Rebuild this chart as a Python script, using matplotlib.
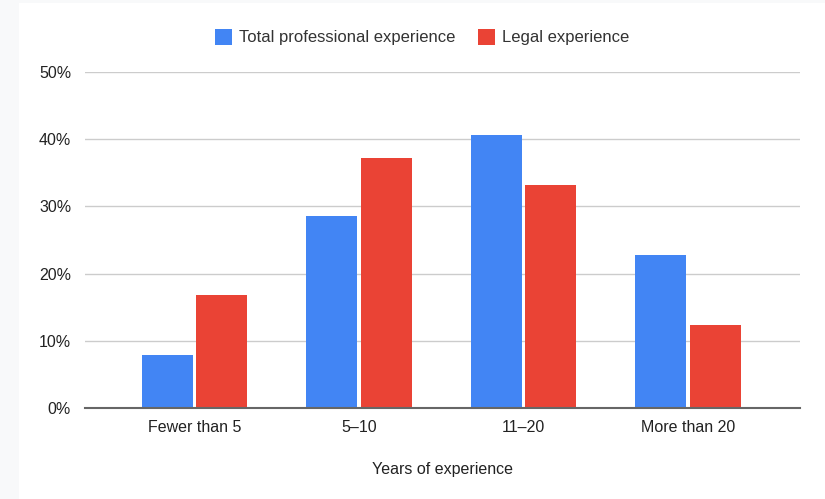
import matplotlib.pyplot as plt
import matplotlib.patches as mpatches
import numpy as np

# Data
categories = ['Fewer than 5', '5–10', '11–20', 'More than 20']
total_experience = [7.9, 28.6, 40.6, 22.8]
legal_experience = [16.8, 37.2, 33.2, 12.4]
y_ticks = [0, 10, 20, 30, 40, 50]

plt.rcParams['font.family'] = ['Liberation Sans', 'DejaVu Sans']

W, H = 825, 499
fig = plt.figure(figsize=(W / 100, H / 100), dpi=100, facecolor='#f8f9fa')

# white card behind the chart
fig.patches.append(mpatches.Rectangle((19 / W, 0), 1 - 19 / W, 1 - 3 / H,
                                      transform=fig.transFigure,
                                      facecolor='white', edgecolor='none', zorder=-10))

ax = fig.add_axes([85 / W, 1 - 408 / H, 715 / W, 336 / H])
ax.set_facecolor('none')

x = np.arange(len(categories))
w = 0.31
gap = 0.01
ax.bar(x - w / 2 - gap, total_experience, width=w, color='#4285f4', zorder=3,
       label='Total professional experience')
ax.bar(x + w / 2 + gap, legal_experience, width=w, color='#ea4335', zorder=3,
       label='Legal experience')

ax.set_xlim(-0.665, 3.68)
ax.set_ylim(0, 50)
ax.set_yticks(y_ticks)
ax.set_yticklabels([f'{t}%' for t in y_ticks])
ax.set_xticks(x)
ax.set_xticklabels(categories)
ax.tick_params(axis='both', length=0, labelsize=11.5, colors='#222222')
ax.tick_params(axis='y', pad=10)
ax.tick_params(axis='x', pad=9)
ax.yaxis.grid(True, color='#cccccc', linewidth=1, zorder=0)
ax.set_axisbelow(True)
for s in ['top', 'right', 'left']:
    ax.spines[s].set_visible(False)
ax.spines['bottom'].set_color('#666666')
ax.spines['bottom'].set_linewidth(1.5)
ax.spines['bottom'].set_zorder(4)

ax.set_xlabel('Years of experience', fontsize=11.5, color='#222222', labelpad=19)

leg = ax.legend(loc='center', bbox_to_anchor=(422 / W, 1 - 37 / H), bbox_transform=fig.transFigure,
                ncol=2, frameon=False, fontsize=12, handlelength=1.0, handleheight=1.1,
                handletextpad=0.4, columnspacing=1.4)
for t in leg.get_texts():
    t.set_color('#333333')

fig.savefig('out.png', dpi=100, facecolor=fig.get_facecolor())
